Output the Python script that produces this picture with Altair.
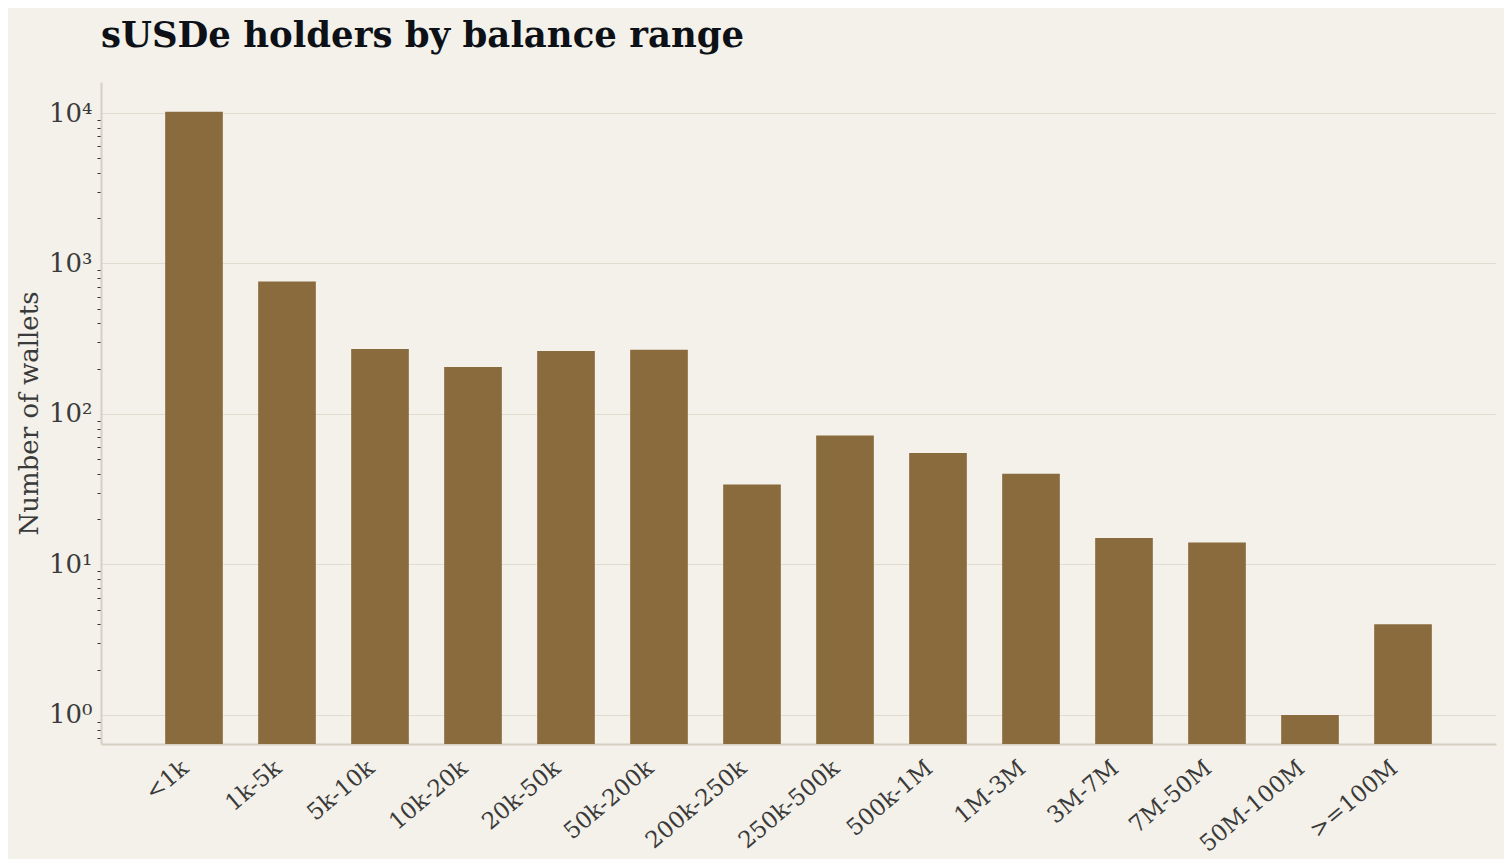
import altair as alt
import pandas as pd

categories = ["<1k", "1k-5k", "5k-10k", "10k-20k", "20k-50k", "50k-200k", "200k-250k",
              "250k-500k", "500k-1M", "1M-3M", "3M-7M", "7M-50M", "50M-100M", ">=100M"]
wallets = [10200, 760, 270, 205, 262, 267, 34, 72, 55, 40, 15, 14, 1, 4]

decade_ticks = [1, 10, 100, 1000, 10000]
minor_ticks = [0.7, 0.8, 0.9,
               2, 3, 4, 5, 6, 7, 8, 9,
               20, 30, 40, 50, 60, 70, 80, 90,
               200, 300, 400, 500, 600, 700, 800, 900,
               2000, 3000, 4000, 5000, 6000, 7000, 8000, 9000]
y_domain = [0.641, 16070]

df = pd.DataFrame({"range": categories, "wallets": wallets})

BG = "#f3f1e9"
BAR = "#8a6b3e"
FONT = "DejaVu Serif"

is_decade = "abs(log(datum.value)/LN10 - round(log(datum.value)/LN10)) < 0.001"
label_expr = ("(" + is_decade + ") ? '10' + ['\u2070','\u00b9','\u00b2','\u00b3','\u2074'][round(log(datum.value)/LN10)] : ''")

chart = alt.Chart(df).mark_bar(color=BAR).encode(
    x=alt.X("range:N", sort=categories, title=None,
            scale=alt.Scale(paddingInner=0.38, paddingOuter=0.69),
            axis=alt.Axis(labelAngle=-40, labelAlign="right", labelBaseline="alphabetic",
                          labelPadding=26, labelOffset=-4, ticks=False, tickSize=0,
                          labelFont=FONT, labelFontSize=23, labelColor="#3a3a3a",
                          domainColor="#d6d0c3", domainWidth=2, grid=False)),
    y=alt.Y("wallets:Q", title="Number of wallets",
            scale=alt.Scale(type="log", domain=y_domain, nice=False),
            axis=alt.Axis(values=decade_ticks + minor_ticks, labelExpr=label_expr,
                          tickSize=4, tickColor="#333333", tickWidth=1,
                          tickOpacity={"condition": {"test": is_decade, "value": 0}, "value": 1},
                          grid=True, gridColor="#e0dccf", gridWidth=1,
                          gridOpacity={"condition": {"test": is_decade, "value": 1}, "value": 0},
                          labelPadding=5, labelFont=FONT, labelFontSize=26, labelColor="#3a3a3a",
                          labelOverlap=False, labelBound=False, labelFlush=False,
                          domainColor="#d6d0c3", domainWidth=2,
                          titleFont=FONT, titleFontSize=26, titleFontWeight="normal",
                          titleColor="#3a3a3a", titleX=-64, titleY=331,
                          titleBaseline="alphabetic", titleAngle=270, titleAlign="center")),
    y2=alt.Y2Datum(y_domain[0]),
).properties(
    width=1395,
    height=662,
    autosize=alt.AutoSizeParams(type="none"),
    padding={"left": 93, "top": 74, "right": 8, "bottom": 115},
    background=BG,
    title=alt.TitleParams("sUSDe holders by balance range", anchor="start", frame="group",
                          font=FONT, fontSize=35.5, fontWeight="bold", color="#0d1117",
                          baseline="alphabetic", offset=0),
).configure_view(stroke=None)

chart.save("out.html", embed_options={"renderer": "svg", "actions": False})
